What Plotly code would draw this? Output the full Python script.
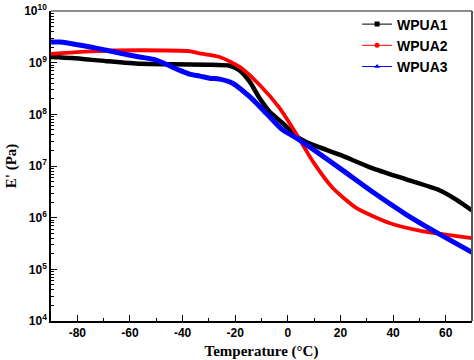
import plotly.graph_objects as go

# ---- data ----
t_wpua1 = [-90, -82, -69, -56, -43.6, -31, -22, -18.3, -14.5, -10.7, -6.9, -2, 3.2, 7, 19.7, 32, 45, 57.6, 64, 70]
e_wpua1 = [1.29e9, 1.23e9, 1.07e9, 9.5e8, 9.3e8, 9.1e8, 8.7e8, 7.1e8, 4.3e8, 2.04e8, 1.12e8, 6.8e7, 3.8e7,
           2.9e7, 1.66e7, 9.1e6, 5.5e6, 3.4e6, 2.24e6, 1.38e6]

t_wpua2 = [-90, -75, -56, -37, -33.5, -25.9, -18.3, -10.7, -3.1, 2.6, 9.5, 17, 26, 38.6, 51, 61.4, 70]
e_wpua2 = [1.48e9, 1.66e9, 1.74e9, 1.66e9, 1.51e9, 1.29e9, 8.3e8, 3.7e8, 1.32e8, 4.7e7, 1.23e7, 3.8e6,
           1.55e6, 7.9e5, 5.5e5, 4.6e5, 4.0e5]

t_wpua3 = [-90, -86.5, -69, -62.6, -56.3, -50, -46.2, -41, -37.3, -33.5, -29.7, -25.9, -21, -14.5, -8.2, -2,
           3.2, 19.7, 32, 45, 57.6, 70]
e_wpua3 = [2.5e9, 2.5e9, 1.74e9, 1.48e9, 1.29e9, 1.12e9, 9.3e8, 7.1e8, 6.0e8, 5.5e8, 5.0e8, 4.8e8, 4.0e8,
           2.19e8, 1.05e8, 5.0e7, 3.5e7, 9.1e6, 3.2e6, 1.15e6, 4.8e5, 2.14e5]

series_names = ["WPUA1", "WPUA2", "WPUA3"]
series_colors = ["#000000", "#ff0000", "#0000ff"]
series_symbols = ["square", "circle", "triangle-up"]

x_tickvals = [-80, -60, -40, -20, 0, 20, 40, 60]
x_ticktext = ["-80", "-60", "-40", "-20", "0", "20", "40", "60"]
y_tickvals = [1e4, 1e5, 1e6, 1e7, 1e8, 1e9, 1e10]
y_ticktext = ["10<sup>4</sup>", "10<sup>5</sup>", "10<sup>6</sup>", "10<sup>7</sup>",
              "10<sup>8</sup>", "10<sup>9</sup>", "10<sup>10</sup>"]
y_minor = [m * 10 ** k for k in range(4, 10) for m in range(2, 10)]

sans = "Liberation Sans, Arial, sans-serif"
serif = "Liberation Serif, Times New Roman, serif"

fig = go.Figure()
for t, e, name, col, sym, w in zip([t_wpua1, t_wpua2, t_wpua3], [e_wpua1, e_wpua2, e_wpua3],
                                   series_names, series_colors, series_symbols, [4.5, 3.8, 5]):
    fig.add_trace(go.Scatter(
        x=t, y=e, name=name, mode="lines", showlegend=False, legendgroup=name,
        line=dict(color=col, width=w, shape="spline", smoothing=0.6),
    ))
# legend entries: thin line with small marker, as in the reference legend
for name, col, sym in zip(series_names, series_colors, series_symbols):
    fig.add_trace(go.Scatter(
        x=[None], y=[None], name=name, mode="lines+markers", legendgroup=name,
        line=dict(color=col, width=1), marker=dict(color=col, symbol=sym, size=5),
    ))

fig.update_layout(
    width=474, height=360,
    margin=dict(l=51, r=2, t=9, b=39),
    paper_bgcolor="white", plot_bgcolor="white",
    showlegend=True,
    legend=dict(x=0.727, xanchor="left", y=1.008, yanchor="top",
                font=dict(family=sans, size=14, color="black", weight="bold"),
                bgcolor="rgba(0,0,0,0)", tracegroupgap=0, itemwidth=30),
)

fig.update_xaxes(
    range=[-90, 70], tickmode="array", tickvals=x_tickvals, ticktext=x_ticktext,
    ticks="inside", ticklen=6, tickwidth=1.3, tickcolor="black",
    minor=dict(tickmode="array", tickvals=[-70, -50, -30, -10, 10, 30, 50], ticks="inside",
               ticklen=3, tickwidth=1.2, tickcolor="black", showgrid=False),
    showline=True, linecolor="black", linewidth=1.5, mirror=False,
    showgrid=False, zeroline=False,
    tickfont=dict(family=sans, size=12, color="black", weight="bold"),
    title=dict(text="Temperature (\u00b0C)", font=dict(family=serif, size=15, color="black", weight="bold"),
               standoff=6),
)
fig.update_yaxes(
    type="log", range=[4, 10], tickmode="array", tickvals=y_tickvals, ticktext=y_ticktext,
    ticks="inside", ticklen=6, tickwidth=1.3, tickcolor="black",
    minor=dict(tickmode="array", tickvals=y_minor, ticks="inside", ticklen=3, tickwidth=1,
               tickcolor="black", showgrid=False),
    showline=True, linecolor="black", linewidth=1.5, mirror=False,
    showgrid=False, zeroline=False,
    tickfont=dict(family=sans, size=12, color="black", weight="bold"),
    title=dict(text="E' (Pa)", font=dict(family=serif, size=15, color="black", weight="bold"),
               standoff=4),
)

# top and right frame lines (grey)
fig.add_shape(type="line", xref="paper", yref="paper", x0=0, x1=1, y0=1, y1=1,
              line=dict(color="#666666", width=1.5))
fig.add_shape(type="line", xref="paper", yref="paper", x0=1, x1=1, y0=0, y1=1,
              line=dict(color="#555555", width=2))

fig.write_html("out.html", config={"displayModeBar": False},
               post_script="document.body.style.margin='0';")
